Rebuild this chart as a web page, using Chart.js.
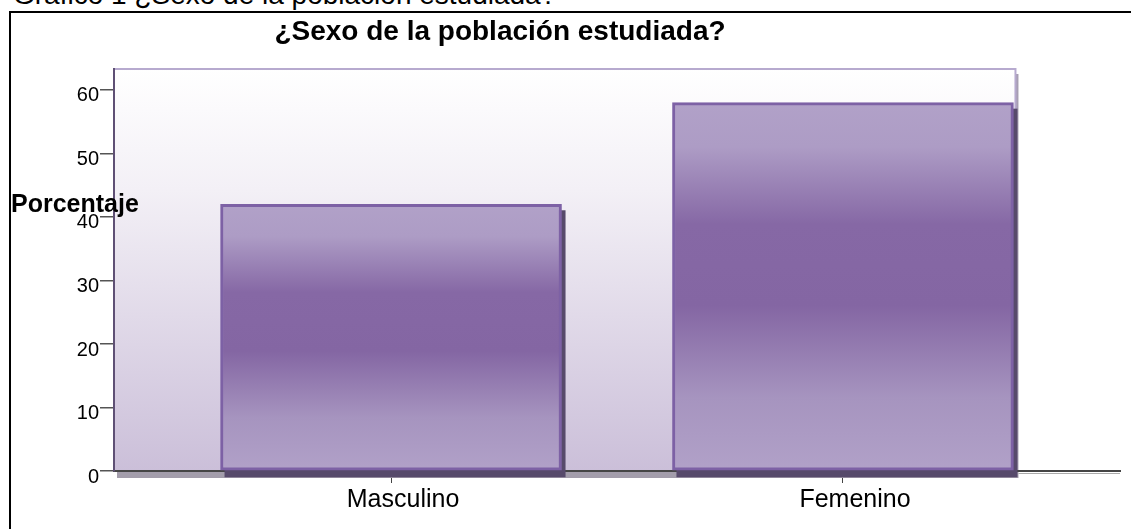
<!DOCTYPE html>
<html>
<head>
<meta charset="utf-8">
<script src="https://cdn.jsdelivr.net/npm/chart.js@4.4.1/dist/chart.umd.min.js"></script>
<style>
  html, body { margin: 0; padding: 0; background: #fff; overflow: hidden; }
  body { width: 1131px; height: 529px; position: relative; font-family: 'Liberation Sans', Arial, sans-serif; }
  #caption { position: absolute; left: 13px; top: -19px; font-size: 28px; line-height: 28px; white-space: nowrap; color: #000; }
  #box { position: absolute; left: 9px; top: 11px; width: 1200px; height: 600px; border: 2px solid #000; box-sizing: border-box; }
  #wrap { position: absolute; left: 0; top: 0; width: 1131px; height: 529px; }
</style>
</head>
<body>
<div id="caption">Gráfico 1 ¿Sexo de la población estudiada?</div>
<div id="box"></div>
<div id="wrap"><canvas id="sexoChart" width="1131" height="529"></canvas></div>
<script>
const categories = ['Masculino', 'Femenino'];
const porcentajes = [42, 58];
const yTicks = [0, 10, 20, 30, 40, 50, 60];
const yMax = 63.3;
const chartTitle = '¿Sexo de la población estudiada?';
const yTitle = 'Porcentaje';

const fontFamily = "'Liberation Sans', Arial, sans-serif";

// fill of each bar: light at both ends, darker band in the middle
const barFill = (context) => {
  const chart = context.chart;
  const y = chart.scales.y;
  if (!chart.chartArea || !y || !context.raw) return '#9a86b8';
  const top = y.getPixelForValue(context.raw.y);
  const bottom = y.getPixelForValue(0);
  const g = chart.ctx.createLinearGradient(0, top, 0, bottom);
  g.addColorStop(0, '#b1a1c8');
  g.addColorStop(0.12, '#ad9cc5');
  g.addColorStop(0.33, '#8668a5');
  g.addColorStop(0.55, '#8466a3');
  g.addColorStop(0.8, '#a694bf');
  g.addColorStop(1, '#b1a1c8');
  return g;
};

const backWall = {
  id: 'backWall',
  beforeDraw(chart) {
    const { ctx, chartArea } = chart;
    const meta = chart.getDatasetMeta(0);
    const last = meta.data[meta.data.length - 1];
    const wallRight = last.x + last.width / 2 + 2;
    const g = ctx.createLinearGradient(0, chartArea.top, 0, chartArea.bottom);
    g.addColorStop(0, '#ffffff');
    g.addColorStop(0.3, '#f3f0f6');
    g.addColorStop(1, '#cbbfd9');
    ctx.save();
    ctx.fillStyle = g;
    ctx.fillRect(chartArea.left, chartArea.top, wallRight - chartArea.left, chartArea.bottom - chartArea.top);
    // right edge shadow
    ctx.fillStyle = '#a79eb3';
    ctx.fillRect(wallRight, chartArea.top + 5, 3, chartArea.bottom - chartArea.top - 5);
    ctx.strokeStyle = '#b7aacf';
    ctx.lineWidth = 2;
    ctx.beginPath();
    ctx.moveTo(chartArea.left, chartArea.top);
    ctx.lineTo(wallRight, chartArea.top);
    ctx.lineTo(wallRight, chartArea.bottom);
    ctx.stroke();
    ctx.restore();
  },
  beforeDatasetsDraw(chart) {
    const { ctx, chartArea } = chart;
    const meta = chart.getDatasetMeta(0);
    const last = meta.data[meta.data.length - 1];
    const wallRight = last.x + last.width / 2 + 2;
    ctx.save();
    // floor shadow
    ctx.fillStyle = '#a39dab';
    ctx.fillRect(chartArea.left + 3, chartArea.bottom + 1, wallRight - chartArea.left, 6);
    ctx.strokeStyle = '#aaaaaa';
    ctx.lineWidth = 1;
    ctx.beginPath();
    ctx.moveTo(wallRight + 3, chartArea.bottom + 2.5);
    ctx.lineTo(chartArea.right, chartArea.bottom + 2.5);
    ctx.stroke();
    // bar shadows
    ctx.fillStyle = '#574a6b';
    meta.data.forEach(el => {
      ctx.fillRect(el.x - el.width / 2 + 4, el.y + 6, el.width, el.base - el.y + 1);
    });
    ctx.restore();
  },
  afterDraw(chart) {
    const { ctx } = chart;
    ctx.save();
    ctx.fillStyle = '#000';
    ctx.textBaseline = 'alphabetic';
    ctx.font = 'bold 28px ' + fontFamily;
    ctx.textAlign = 'center';
    ctx.fillText(chartTitle, 500, 40);
    ctx.font = 'bold 25px ' + fontFamily;
    ctx.textAlign = 'left';
    ctx.fillText(yTitle, 11, 212);
    ctx.restore();
  }
};

const ctx = document.getElementById('sexoChart').getContext('2d');
new Chart(ctx, {
  type: 'bar',
  data: {
    datasets: [{
      label: yTitle,
      data: categories.map((c, i) => ({ x: i, y: porcentajes[i] })),
      backgroundColor: barFill,
      borderColor: '#7d61a5',
      borderWidth: 3,
      borderSkipped: false,
      barThickness: 341
    }]
  },
  options: {
    responsive: false,
    animation: false,
    layout: { padding: { top: 69, right: 11, left: 0, bottom: 0 } },
    plugins: {
      legend: { display: false },
      title: { display: false },
      tooltip: { enabled: false }
    },
    scales: {
      x: {
        type: 'linear',
        offset: false,
        min: -0.613,
        max: 1.613,
        afterBuildTicks: (scale) => { scale.ticks = categories.map((c, i) => ({ value: i })); },
        afterFit: (scale) => { scale.height = 58; },
        ticks: {
          callback: (value) => categories[value],
          color: '#000',
          font: { family: fontFamily, size: 25 },
          padding: 2,
          labelOffset: 12,
          maxRotation: 0
        },
        grid: { offset: false, drawOnChartArea: false, tickLength: 12, color: '#444', lineWidth: 1 },
        border: { color: '#454545', width: 2 }
      },
      y: {
        min: 0,
        max: yMax,
        afterBuildTicks: (scale) => { scale.ticks = yTicks.map(v => ({ value: v })); },
        afterFit: (scale) => { scale.width = 114; },
        ticks: {
          color: '#000',
          font: { family: fontFamily, size: 20 },
          padding: 1,
          labelOffset: 6
        },
        grid: { drawOnChartArea: false, tickLength: 14, color: '#555', lineWidth: 1.5 },
        border: { color: '#5f5075', width: 2 }
      }
    }
  },
  plugins: [backWall]
});
</script>
</body>
</html>
